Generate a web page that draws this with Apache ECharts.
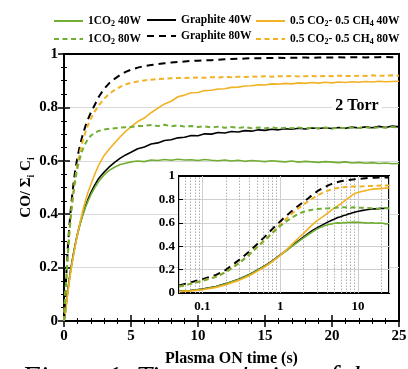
<!DOCTYPE html>
<html><head><meta charset="utf-8">
<script src="https://cdn.jsdelivr.net/npm/echarts/dist/echarts.min.js"></script>
<style>html,body{margin:0;padding:0;background:#fff}#c{width:408px;height:369px}</style>
</head><body><div id="c"></div>
<script>
// time (s)
const T = [0, 0.05, 0.07, 0.1, 0.15, 0.2, 0.3, 0.4, 0.5, 0.6, 0.7, 0.8, 0.9, 1.0, 1.2, 1.4, 1.6, 1.8, 2.0, 2.3, 2.6, 3.0, 3.4, 3.8, 4.2, 4.6,
  5.0, 5.5, 6.0, 6.5, 7.0, 7.5, 8.0, 8.5, 9.0, 9.5, 10, 10.5, 11, 11.5, 12, 12.5, 13, 13.5, 14, 14.5,
  15, 15.5, 16, 16.5, 17, 17.5, 18, 18.5, 19, 19.5, 20, 20.5, 21, 21.5, 22, 22.5, 23, 23.5, 24, 24.5, 25];
const C40 = [0, .014, .021, .032, .053, .078, .118, .156, .19, .22, .248, .275, .30, .322, .362, .396, .425, .45, .472, .50, .523, .548, .565, .577, .586, .591,
  .596, .599, .597, .603, .601, .605, .602, .606, .603, .604,
  .601, .605, .602, .600, .603, .599, .602, .598, .601, .599,
  .597, .600, .598, .596, .599, .595, .598, .596, .594, .597,
  .595, .593, .596, .592, .594, .591, .593, .590, .592, .589, .590];
const G40 = [0, .015, .022, .033, .055, .08, .12, .158, .192, .222, .25, .277, .302, .325, .365, .40, .43, .457, .48, .51, .535, .558, .578, .595, .61, .622,
  .632, .645, .652, .663, .667, .676, .679, .686, .688, .695,
  .694, .701, .700, .706, .704, .710, .708, .713, .711, .716,
  .714, .718, .716, .720, .718, .722, .719, .723, .721, .724,
  .721, .725, .722, .726, .723, .727, .724, .729, .725, .730, .727];
const O40 = [0, .012, .018, .028, .048, .07, .11, .148, .183, .214, .243, .27, .297, .322, .37, .413, .45, .483, .51, .55, .585, .62, .645, .668, .69, .71,
  .727, .747, .760, .780, .797, .813, .823, .840, .846, .855,
  .856, .863, .864, .869, .870, .875, .876, .880, .881, .885,
  .884, .888, .887, .890, .888, .892, .890, .893, .891, .894,
  .892, .895, .893, .896, .894, .897, .895, .898, .896, .897, .898];
const C80 = [0, .055, .078, .103, .138, .178, .258, .328, .388, .437, .478, .515, .545, .572, .612, .643, .665, .682, .694, .705, .712, .717, .72, .722, .724, .726,
  .727, .730, .731, .734, .730, .735, .729, .733, .728, .730,
  .727, .729, .725, .728, .724, .727, .723, .726, .722, .725,
  .722, .725, .721, .724, .722, .725, .721, .724, .722, .725,
  .721, .724, .722, .725, .723, .726, .722, .726, .724, .727, .725];
const G80 = [0, .065, .09, .118, .155, .198, .285, .355, .415, .465, .51, .55, .583, .612, .66, .698, .73, .757, .78, .81, .84, .87, .892, .908, .922, .933,
  .941, .949, .955, .959, .962, .965, .968, .970, .972, .974,
  .975, .976, .977, .978, .980, .981, .982, .983, .984, .984,
  .985, .985, .986, .985, .986, .986, .987, .986, .987, .987,
  .987, .988, .987, .988, .988, .987, .988, .988, .989, .988, .988];
const O80 = [0, .055, .078, .105, .14, .18, .26, .33, .39, .44, .48, .52, .555, .585, .635, .675, .707, .735, .757, .785, .808, .833, .852, .866, .877, .886,
  .892, .897, .901, .904, .906, .907, .909, .910, .910, .911,
  .912, .911, .913, .912, .914, .913, .915, .914, .916, .915,
  .917, .915, .917, .916, .918, .916, .917, .918, .916, .918,
  .917, .919, .918, .917, .919, .918, .920, .918, .919, .920, .919];
const INSET_X_LABELS = [0.1, 1, 10];
const INSET_MINOR_GRID = [0.06, 0.07, 0.08, 0.09, 0.2, 0.3, 0.4, 0.5, 0.6, 0.7, 0.8, 0.9, 2, 3, 4, 5, 6, 7, 8, 9, 20];

const FONT = '"Liberation Serif", "Times New Roman", serif';
const GREEN = '#72ad34', ORANGE = '#f2b225', BLACK = '#000';

const SERIES = [
  {name: 'Graphite 40W', d: G40, color: BLACK, type: 'solid', w: 1.6},
  {name: '1CO2 40W', d: C40, color: GREEN, type: 'solid', w: 1.6},
  {name: '0.5 CO2-0.5 CH4 40W', d: O40, color: ORANGE, type: 'solid', w: 1.6},
  {name: 'Graphite 80W', d: G80, color: BLACK, type: [7, 5], w: 2},
  {name: '0.5 CO2-0.5 CH4 80W', d: O80, color: ORANGE, type: [5, 3.5], w: 2},
  {name: '1CO2 80W', d: C80, color: GREEN, type: [5, 3.5], w: 2}
];
const LABELS = {
  '1CO2 40W': '{t|1CO}{s|2}{t| 40W}',
  '1CO2 80W': '{t|1CO}{s|2}{t| 80W}',
  'Graphite 40W': '{t|Graphite 40W}',
  'Graphite 80W': '{t|Graphite 80W}',
  '0.5 CO2-0.5 CH4 40W': '{t|0.5 CO}{s|2}{t|- 0.5 CH}{s|4}{t| 40W}',
  '0.5 CO2-0.5 CH4 80W': '{t|0.5 CO}{s|2}{t|- 0.5 CH}{s|4}{t| 80W}'
};

const tickStyle = {show: true, inside: true, length: 6, lineStyle: {color: '#000', width: 1.5}};
const minorX = {show: true, splitNumber: 5, length: 3, lineStyle: {color: '#000', width: 1}};
const minorY = {show: true, splitNumber: 4, length: 3, lineStyle: {color: '#000', width: 1}};
const lbl = {fontFamily: FONT, fontWeight: 'bold', fontSize: 15, color: '#000'};

const series = [];
SERIES.forEach((s, k) => {
  series.push({
    type: 'line', name: s.name, xAxisIndex: 0, yAxisIndex: 0, z: 2,
    data: T.map((t, i) => [t, s.d[i]]), symbol: 'none', showSymbol: false,
    lineStyle: {color: s.color, width: s.w, type: s.type}, itemStyle: {color: s.color}
  });
});
SERIES.forEach((s, k) => {
  const ser = {
    type: 'line', name: s.name, xAxisIndex: 2, yAxisIndex: 2, z: 6,
    data: T.map((t, i) => [t, s.d[i]]).filter(p => p[0] > 0), symbol: 'none', showSymbol: false,
    lineStyle: {color: s.color, width: s.w, type: s.type}, itemStyle: {color: s.color}
  };
  if (k === 0) {
    ser.markLine = {silent: true, symbol: 'none', z: 4, animation: false, label: {show: false},
      lineStyle: {color: '#b0b0b0', type: [1.5, 1.5], width: 1},
      emphasis: {disabled: true},
      data: INSET_MINOR_GRID.map(v => ({xAxis: v}))};
  }
  series.push(ser);
});

const legendCommon = {
  orient: 'vertical', itemWidth: 29, itemHeight: 10, itemGap: 4, padding: 0, selectedMode: false,
  itemStyle: {opacity: 0},
  formatter: n => LABELS[n],
  textStyle: {rich: {
    t: {fontFamily: FONT, fontWeight: 'bold', fontSize: 11.5, lineHeight: 13, color: '#000'},
    s: {fontFamily: FONT, fontWeight: 'bold', fontSize: 8, lineHeight: 8, padding: [6, 0, 0, 0], color: '#000'}
  }}
};

const chart = echarts.init(document.getElementById('c'), null, {renderer: 'canvas'});
chart.setOption({
  animation: false,
  backgroundColor: '#fff',
  grid: [
    {left: 64, right: 9, top: 54, bottom: 48, show: true, borderColor: '#000', borderWidth: 2, backgroundColor: 'transparent', outerBoundsMode: 'none', containLabel: false},
    {left: 179, right: 19, top: 176, bottom: 76, show: true, borderColor: '#000', borderWidth: 2, backgroundColor: '#fff', z: 3, outerBoundsMode: 'none', containLabel: false}
  ],
  legend: [
    Object.assign({data: ['1CO2 40W', '1CO2 80W'], left: 53, top: 14}, legendCommon),
    Object.assign({data: ['Graphite 40W', 'Graphite 80W'], left: 146, top: 14}, legendCommon),
    Object.assign({data: ['0.5 CO2-0.5 CH4 40W', '0.5 CO2-0.5 CH4 80W'], left: 255, top: 14}, legendCommon)
  ],
  xAxis: [
    {type: 'value', gridIndex: 0, min: 0, max: 25, interval: 5, axisLine: {show: false},
      axisTick: tickStyle, minorTick: minorX, splitLine: {show: false},
      axisLabel: Object.assign({margin: 8}, lbl),
      name: 'Plasma ON time (s)', nameLocation: 'middle', nameGap: 30, nameMoveOverlap: false,
      nameTextStyle: {fontFamily: FONT, fontWeight: 'bold', fontSize: 16, color: '#000', backgroundColor: '#fff', padding: [0, 3]}},
    {type: 'value', gridIndex: 0, position: 'top', min: 0, max: 25, interval: 5, axisLine: {show: false},
      axisTick: tickStyle, minorTick: minorX, splitLine: {show: false}, axisLabel: {show: false}},
    {type: 'log', logBase: 10, gridIndex: 1, min: 0.05, max: 25, z: 4, axisLine: {show: false},
      axisTick: {show: false}, splitLine: {show: true, lineStyle: {color: '#cfcfcf', width: 1}},
      axisLabel: {margin: 7, fontFamily: FONT, fontWeight: 'bold', fontSize: 13, color: '#000',
        formatter: v => { const m = INSET_X_LABELS.find(x => Math.abs(Math.log10(v) - Math.log10(x)) < 1e-6); return m === undefined ? '' : String(m); }}}
  ],
  yAxis: [
    {type: 'value', gridIndex: 0, min: 0, max: 1, interval: 0.2, axisLine: {show: false},
      axisTick: tickStyle, minorTick: minorY,
      splitLine: {show: true, showMinLine: false, showMaxLine: false, lineStyle: {color: '#d9d9d9', width: 1.2}},
      axisLabel: Object.assign({margin: 6}, lbl),
      name: '{t|CO/ Σ}{s|i}{t| C}{s|i}', nameLocation: 'middle', nameRotate: 90, nameGap: 29, nameMoveOverlap: false,
      nameTextStyle: {rich: {
        t: {fontFamily: FONT, fontWeight: 'bold', fontSize: 15, lineHeight: 17, color: '#000'},
        s: {fontFamily: FONT, fontWeight: 'bold', fontSize: 10, lineHeight: 10, padding: [9, 0, 0, 0], color: '#000'}
      }}},
    {type: 'value', gridIndex: 0, position: 'right', min: 0, max: 1, interval: 0.2, axisLine: {show: false},
      axisTick: tickStyle, minorTick: minorY, splitLine: {show: false}, axisLabel: {show: false}},
    {type: 'value', gridIndex: 1, min: 0, max: 1, interval: 0.2, z: 4, axisLine: {show: false},
      axisTick: {show: true, inside: true, length: 4, lineStyle: {color: '#000', width: 1}},
      splitLine: {show: true, showMinLine: false, showMaxLine: false, lineStyle: {color: '#cfcfcf', width: 1}},
      axisLabel: {margin: 4, fontFamily: FONT, fontWeight: 'bold', fontSize: 13, color: '#000'}}
  ],
  graphic: [
    {type: 'text', x: 357, y: 106, z: 1, style: {text: '2 Torr', font: 'bold 16px ' + FONT, fill: '#000', align: 'center', verticalAlign: 'middle', backgroundColor: '#fff', padding: [1, 3]}},
    {type: 'text', x: 22, y: 364, z: -1, style: {text: 'Figure 1. Time evolution of the', font: 'italic 29px ' + FONT, fill: '#000', align: 'left', verticalAlign: 'top'}}
  ],
  series: series
});
</script></body></html>
